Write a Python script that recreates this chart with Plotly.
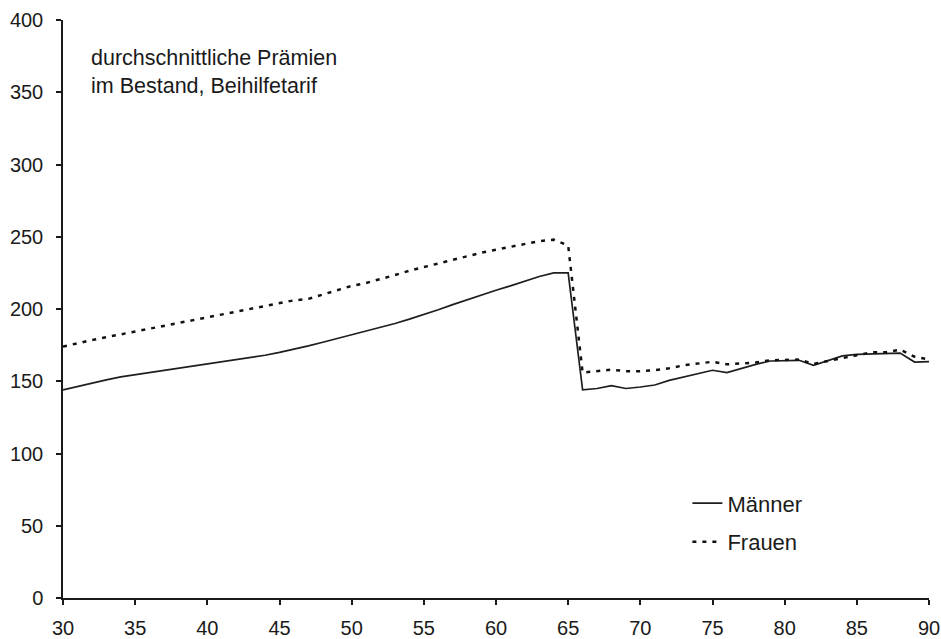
import plotly.graph_objects as go

ages = list(range(30, 91))

maenner = [144, 146.5, 149, 151, 153, 154.5, 156, 157.5, 158.5, 160,
           161.5, 163, 164.5, 166, 168, 170, 172, 174.5, 177, 179.5,
           182, 185, 187, 190, 193, 196, 199.5, 203, 206.5, 210,
           213, 216, 219.5, 222.5, 225, 225, 144, 145, 147, 145,
           146, 147.4, 150.6, 153, 155, 157.6, 156, 159, 161.7, 164,
           164.5, 164.5, 161, 164, 167.5, 168.6, 169, 169, 169.5, 163.3,
           163.6]

frauen = [174, 176.5, 178.5, 180.5, 182.5, 184.5, 186.5, 188.5, 190, 192,
          194, 196, 198, 200, 202, 204.5, 206, 207, 210, 213,
          216, 218, 220.5, 223.5, 226.5, 229, 232, 234.5, 237, 239,
          241, 243, 245, 247, 248, 244, 156, 157, 158, 157,
          157, 157.6, 159, 161, 162.4, 163.5, 161.7, 162.4, 163, 164.5,
          164.5, 165, 162, 164, 166, 168, 170, 170, 171.8, 167,
          165]

x_ticks = [30, 35, 40, 45, 50, 55, 60, 65, 70, 75, 80, 85, 90]
y_ticks = [0, 50, 100, 150, 200, 250, 300, 350, 400]

FONT = "Liberation Sans, Arial, sans-serif"

fig = go.Figure()
fig.add_trace(go.Scatter(x=ages, y=maenner, mode="lines", name="Männer",
                         legendgroup="m",
                         line=dict(color="#1e1e1e", width=1.7)))
fig.add_trace(go.Scatter(x=ages, y=frauen, mode="lines", name="Frauen",
                         legendgroup="f",
                         line=dict(color="#111111", width=2.5, dash="4px,6px")))

fig.add_annotation(xref="paper", yref="paper", x=0.0295, y=0.958,
                   xanchor="left", yanchor="top", align="left", showarrow=False,
                   text="durchschnittliche Prämien<br>im Bestand, Beihilfetarif",
                   font=dict(family=FONT, size=21.5, color="#1a1a1a"))

fig.update_layout(
    width=941, height=639,
    margin=dict(l=62.7, r=11.5, t=20, b=40.7, autoexpand=False),
    paper_bgcolor="white", plot_bgcolor="white",
    font=dict(family=FONT, size=20, color="#1a1a1a"),
    showlegend=True,
    legend=dict(x=0.721, y=0.2, xanchor="left", yanchor="top",
                bgcolor="rgba(0,0,0,0)", font=dict(size=22),
                traceorder="grouped", tracegroupgap=7),
    xaxis=dict(range=[30, 90], tickvals=x_ticks, showgrid=False, zeroline=False,
               showline=True, linecolor="#1a1a1a", linewidth=1.5,
               ticks="outside", ticklen=5, tickcolor="#1a1a1a", tickwidth=1.5,
               ticklabelstandoff=6, automargin=False),
    yaxis=dict(range=[0, 400], tickvals=y_ticks, showgrid=False, zeroline=False,
               showline=True, linecolor="#1a1a1a", linewidth=1.5,
               ticks="outside", ticklen=5, tickcolor="#1a1a1a", tickwidth=1.5,
               ticklabelstandoff=9, automargin=False),
)

fig.write_html(
    "out.html",
    config={"displayModeBar": False},
    post_script="document.body.style.margin='0';document.body.style.overflow='hidden';",
)
